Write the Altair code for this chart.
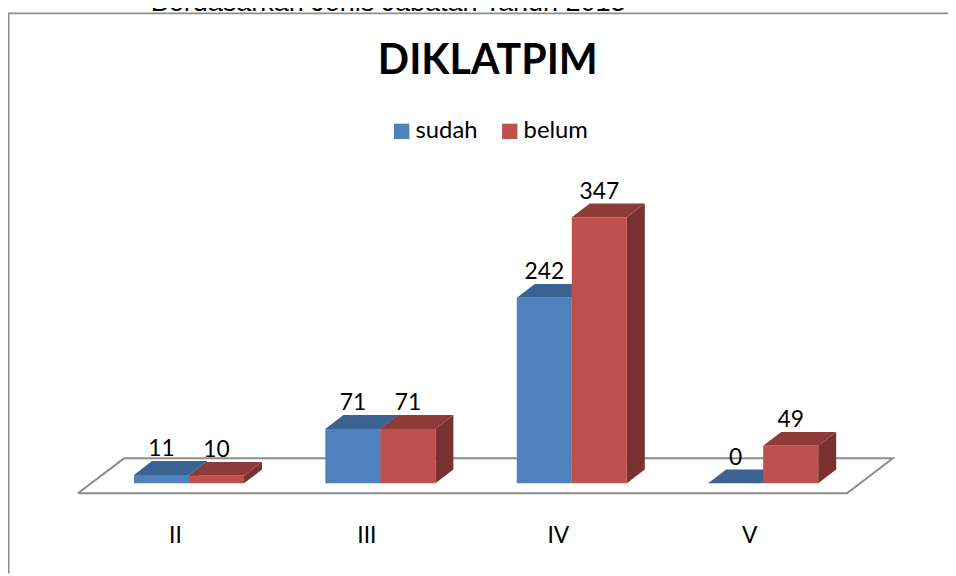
import altair as alt
import pandas as pd

categories = ["II", "III", "IV", "V"]
series_names = ["sudah", "belum"]
sudah = [11, 71, 242, 0]
belum = [10, 71, 347, 49]
top_text = ["Berdasarkan Jenis Jabatan Tahun 2013"]

BLUE, BLUE_TOP, BLUE_SIDE = "#4F81BD", "#3B6391", "#345A85"
RED, RED_TOP, RED_SIDE = "#C0504D", "#8E3B39", "#7A3230"
GRAY = "#8C8C8C"
FONT = "Lato"

# geometry in data units (category index / value)
shift = 0.0731      # bar group centre relative to category label
bar_w = 0.2874
dx = 0.094
dv = 18.0
X_DOMAIN = [-0.8725, 4.0387]
Y_DOMAIN = [-29.8, 500.6]

xs = alt.Scale(domain=X_DOMAIN, nice=False, zero=False)
ys = alt.Scale(domain=Y_DOMAIN, nice=False, zero=False)

label_expr = "[" + ",".join(f"'{c}'" for c in categories) + "][datum.value]"
x_axis = alt.Axis(values=list(range(len(categories))), labelExpr=label_expr, domain=False,
                  ticks=False, grid=False, labelPadding=19, labelFontSize=23, labelFont=FONT,
                  labelColor="#000000", labelAngle=0)

X = alt.X("x:Q", scale=xs, axis=x_axis, title=None)
Y = alt.Y("y:Q", scale=ys, axis=None, title=None, stack=None)

front_rows, top_rows, side_rows, label_rows = [], [], [], []
for s, (name, vals) in enumerate(zip(series_names, [sudah, belum])):
    for i, v in enumerate(vals):
        x0 = i + shift + (s - 1) * bar_w
        x1 = x0 + bar_w
        f = f"{s}-{i}"
        front_rows.append(dict(series=name, x=x0, x2=x1, y=0, y2=v))
        for xx, a, b in [(x0, v, v), (x0 + dx, v + dv, v), (x1, v + dv, v), (x1 + dx, v + dv, v + dv)]:
            top_rows.append(dict(series=name, f=f, x=xx, y=a, y2=b))
        for xx, a, b in [(x1, v, 0), (x1 + dx, v + dv, dv)]:
            side_rows.append(dict(series=name, f=f, x=xx, y=a, y2=b))
        label_rows.append(dict(series=name, x=(x0 + x1) / 2, y=v + dv, label=str(v)))

front = pd.DataFrame(front_rows)
top = pd.DataFrame(top_rows)
side = pd.DataFrame(side_rows)
labels = pd.DataFrame(label_rows)

floor = pd.DataFrame({
    "o": [0, 1, 2, 3, 4],
    "x": [-0.507, 3.511, 3.751, -0.266, -0.507],
    "y": [-13.0, -13.0, 32.6, 32.6, -13.0],
})

layers = []
layers.append(alt.Chart(floor).mark_line(color=GRAY, strokeWidth=2).encode(x=X, y=Y, order="o:Q"))

color_scale = alt.Scale(domain=series_names, range=[BLUE, RED])
legend = alt.Legend(title=None, orient="none", legendX=385, legendY=20, direction="horizontal",
                    symbolType="square", symbolSize=240, symbolStrokeWidth=0, labelFontSize=24,
                    labelFont=FONT, labelColor="#000000", columnPadding=20, labelOffset=2)

for name, top_c, side_c in [("sudah", BLUE_TOP, BLUE_SIDE), ("belum", RED_TOP, RED_SIDE)]:
    layers.append(alt.Chart(side[side.series == name]).mark_area(color=side_c, orient="vertical").encode(
        x=X, y=Y, y2="y2:Q", detail="f:N"))
    layers.append(alt.Chart(top[top.series == name]).mark_area(color=top_c, orient="vertical").encode(
        x=X, y=Y, y2="y2:Q", detail="f:N"))
    layers.append(alt.Chart(front[front.series == name]).mark_rect().encode(
        x=X, x2="x2:Q", y=Y, y2="y2:Q",
        color=alt.Color("series:N", scale=color_scale, legend=legend)))

layers.append(alt.Chart(labels).mark_text(fontSize=23, font=FONT, color="#000000", dy=-12).encode(
    x=X, y=Y, text="label:N"))

# outer frame
blank = pd.DataFrame({"a": [0]})
layers.append(alt.Chart(blank).mark_rule(color=GRAY, strokeWidth=2).encode(
    x=alt.value(0.5), y=alt.value(-87), y2=alt.value(478)))
layers.append(alt.Chart(blank).mark_rule(color=GRAY, strokeWidth=2).encode(
    x=alt.value(0), x2=alt.value(948), y=alt.value(-87)))

# the line of page text above the frame, cut by the top edge as in the reference
layers.append(alt.Chart(pd.DataFrame({"t": top_text})).mark_text(
    font="Liberation Sans", fontSize=27.2, color="#000000", align="left", baseline="alphabetic").encode(
    x=alt.value(144), y=alt.value(-89), text="t:N"))

chart = alt.layer(*layers).properties(
    width=948,
    height=410,
    padding={"left": 0, "top": 90, "right": 0, "bottom": 68},
    autosize=alt.AutoSizeParams(type="none"),
    background="#FFFFFF",
    title=alt.TitleParams("DIKLATPIM", font=FONT, fontSize=41.5, fontWeight="bold", color="#000000",
                          anchor="start", offset=0, dx=374, dy=94),
).configure_view(stroke=None)

chart.save("out.html", embed_options={"renderer": "svg", "actions": False})
